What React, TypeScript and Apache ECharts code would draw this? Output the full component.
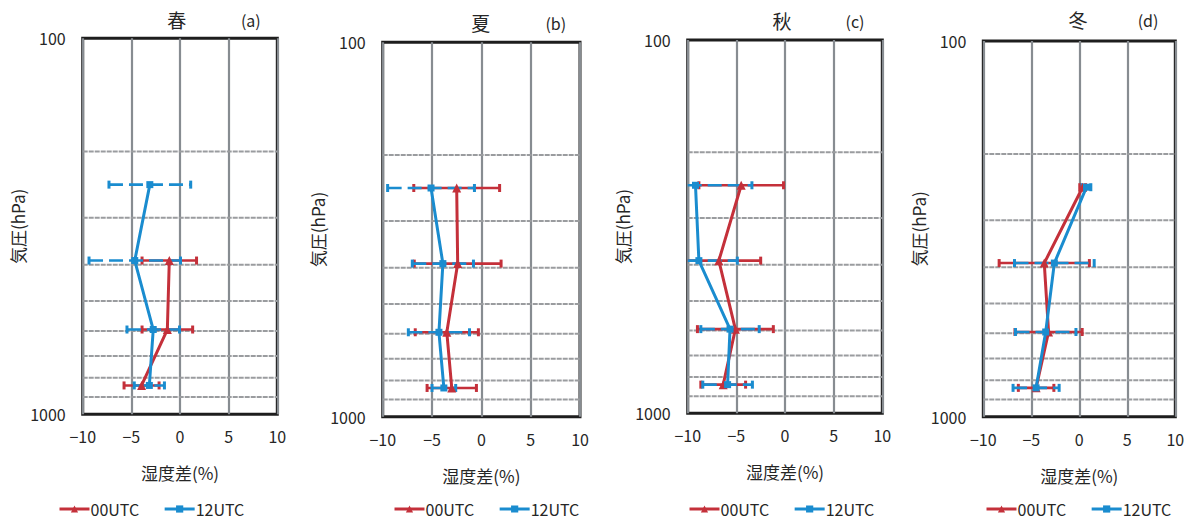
import React, { useEffect, useRef } from "react";
import * as echarts from "echarts";

// Pressure levels (hPa) at which the humidity differences are plotted
const PRESSURE_LEVELS = [245, 390, 595, 838];
// Reference lines drawn across each panel
const GRID_LEVELS = [200, 300, 400, 500, 600, 700, 800, 900];

const SEASONS = ["春", "夏", "秋", "冬"];
const PANEL_TAGS = ["(a)", "(b)", "(c)", "(d)"];
const SERIES_00 = "00UTC";
const SERIES_12 = "12UTC";

// Mean humidity difference (%) and its spread, per season and launch time
const SPRING_00_MEAN = [null, -1.1, -1.3, -3.95];
const SPRING_00_ERR = [null, 2.8, 2.6, 1.8];
const SPRING_12_MEAN = [-3.1, -4.65, -2.75, -3.15];
const SPRING_12_ERR = [4.2, 4.7, 2.7, 1.55];

const SUMMER_00_MEAN = [-2.5, -2.4, -3.5, -3.0];
const SUMMER_00_ERR = [4.35, 4.4, 3.2, 2.5];
const SUMMER_12_MEAN = [-5.1, -3.9, -4.3, -3.8];
const SUMMER_12_ERR = [4.4, 3.1, 3.1, 1.2];

const AUTUMN_00_MEAN = [-4.5, -6.8, -5.1, -6.35];
const AUTUMN_00_ERR = [4.35, 4.3, 3.9, 2.3];
const AUTUMN_12_MEAN = [-9.2, -8.85, -5.65, -5.9];
const AUTUMN_12_ERR = [5.8, 3.95, 3.0, 2.55];

const WINTER_00_MEAN = [0.35, -3.65, -3.2, -4.5];
const WINTER_00_ERR = [0.3, 4.7, 3.5, 1.85];
const WINTER_12_MEAN = [0.75, -2.6, -3.5, -4.5];
const WINTER_12_ERR = [0.45, 4.15, 3.15, 2.4];

const MEANS_00 = [SPRING_00_MEAN, SUMMER_00_MEAN, AUTUMN_00_MEAN, WINTER_00_MEAN];
const ERRS_00 = [SPRING_00_ERR, SUMMER_00_ERR, AUTUMN_00_ERR, WINTER_00_ERR];
const MEANS_12 = [SPRING_12_MEAN, SUMMER_12_MEAN, AUTUMN_12_MEAN, WINTER_12_MEAN];
const ERRS_12 = [SPRING_12_ERR, SUMMER_12_ERR, AUTUMN_12_ERR, WINTER_12_ERR];

const X_MIN = -10;
const X_MAX = 10;
const X_STEP = 5;
const P_TOP = 100;
const P_BOTTOM = 1000;

// Plot-area placement of each panel
const PANELS = [
  { left: 82.7, top: 38.3, width: 194.6, height: 376, title: 176.7, tag: 250.8, titleY: 19, legend: 58 },
  { left: 382.7, top: 42.3, width: 197.3, height: 374.4, title: 480.8, tag: 555.8, titleY: 22, legend: 393 },
  { left: 687.7, top: 40, width: 194.6, height: 373.3, title: 782, tag: 855, titleY: 20, legend: 688 },
  { left: 983.3, top: 41, width: 192, height: 375.7, title: 1078, tag: 1148, titleY: 19, legend: 985 },
];

const RED = "#c4303a";
const BLUE = "#1a8ccf";
const GRID_GREY = "#878c91";
const TEXT = "#262626";
const FONT = "'Noto Sans CJK JP', 'Noto Sans', sans-serif";

const fmtTick = (v: number) => (v < 0 ? "\u2212" + Math.abs(v) : String(v));
const fmtPressure = (v: number) => String(Math.round(v));

function pointsOf(means: (number | null)[]) {
  const out: number[][] = [];
  means.forEach((m, i) => {
    if (m !== null) out.push([m, PRESSURE_LEVELS[i]]);
  });
  return out;
}

function errorBars(
  idx: number,
  key: string,
  means: (number | null)[],
  errs: (number | null)[],
  color: string,
  dashed: boolean,
  z: number
) {
  const data: number[][] = [];
  means.forEach((m, i) => {
    if (m !== null && errs[i] !== null) data.push([m, PRESSURE_LEVELS[i], errs[i] as number]);
  });
  return {
    type: "custom",
    name: key,
    xAxisIndex: idx,
    yAxisIndex: idx,
    z,
    silent: true,
    data,
    encode: { x: 0, y: 1 },
    renderItem: (_params: any, api: any) => {
      const m = api.value(0);
      const p = api.value(1);
      const e = api.value(2);
      const lo = Math.max(X_MIN, m - e);
      const hi = Math.min(X_MAX, m + e);
      const a = api.coord([lo, p]);
      const b = api.coord([hi, p]);
      const children: any[] = [
        {
          type: "line",
          shape: { x1: a[0], y1: a[1], x2: b[0], y2: b[1] },
          style: { stroke: color, lineWidth: 2.6, lineDash: dashed ? [14, 6] : null },
        },
      ];
      const cap = (pt: number[]) => ({
        type: "line",
        shape: { x1: pt[0], y1: pt[1] - 4, x2: pt[0], y2: pt[1] + 4 },
        style: { stroke: color, lineWidth: 3 },
      });
      if (m - e >= X_MIN) children.push(cap(a));
      if (m + e <= X_MAX) children.push(cap(b));
      return { type: "group", children };
    },
  };
}

function levelLines(idx: number) {
  return {
    type: "custom",
    name: "levels-" + idx,
    xAxisIndex: idx,
    yAxisIndex: idx,
    z: 1,
    silent: true,
    data: GRID_LEVELS.map((p) => [0, p]),
    encode: { x: 0, y: 1 },
    renderItem: (_params: any, api: any) => {
      const p = api.value(1);
      const a = api.coord([X_MIN, p]);
      const b = api.coord([X_MAX, p]);
      return {
        type: "line",
        shape: { x1: a[0], y1: a[1], x2: b[0], y2: b[1] },
        style: { stroke: "#9a9c9f", lineWidth: 2, lineDash: [5, 1] },
      };
    },
  };
}

function buildOption() {
  const grid: any[] = [];
  const xAxis: any[] = [];
  const yAxis: any[] = [];
  const series: any[] = [];
  const legend: any[] = [];
  const graphic: any[] = [];

  PANELS.forEach((pn, i) => {
    grid.push({
      left: pn.left,
      top: pn.top,
      width: pn.width,
      height: pn.height,
      show: true,
      borderColor: "#1e1e1e",
      borderWidth: 3,
      backgroundColor: "#ffffff",
    });
    xAxis.push({
      type: "value",
      gridIndex: i,
      min: X_MIN,
      max: X_MAX,
      interval: X_STEP,
      name: "湿度差(%)",
      nameLocation: "middle",
      nameGap: 50,
      nameTextStyle: { fontFamily: FONT, fontSize: 17, color: TEXT },
      axisLine: { show: false },
      axisTick: { show: false },
      axisLabel: { formatter: fmtTick, fontFamily: FONT, fontSize: 16, color: TEXT, margin: 14 },
      splitLine: { show: true, lineStyle: { color: GRID_GREY, width: 2.2 } },
    });
    yAxis.push({
      type: "log",
      logBase: 10,
      gridIndex: i,
      min: P_TOP,
      max: P_BOTTOM,
      inverse: true,
      name: "気圧(hPa)",
      nameLocation: "middle",
      nameRotate: 90,
      nameGap: 47,
      nameTextStyle: { fontFamily: FONT, fontSize: 17, color: TEXT },
      axisLine: { show: false },
      axisTick: { show: false },
      axisLabel: { formatter: fmtPressure, fontFamily: FONT, fontSize: 16, color: TEXT, margin: 17 },
      splitLine: { show: false },
    });

    series.push(levelLines(i));
    series.push(errorBars(i, "eb00-" + i, MEANS_00[i], ERRS_00[i], RED, false, 2));
    series.push(errorBars(i, "eb12-" + i, MEANS_12[i], ERRS_12[i], BLUE, true, 3));
    series.push({
      type: "line",
      name: SERIES_00,
      xAxisIndex: i,
      yAxisIndex: i,
      z: 4,
      data: pointsOf(MEANS_00[i]),
      symbol: "triangle",
      symbolSize: 9,
      lineStyle: { color: RED, width: 3 },
      itemStyle: { color: RED },
    });
    series.push({
      type: "line",
      name: SERIES_12,
      xAxisIndex: i,
      yAxisIndex: i,
      z: 5,
      data: pointsOf(MEANS_12[i]),
      symbol: "rect",
      symbolSize: 7,
      lineStyle: { color: BLUE, width: 3 },
      itemStyle: { color: BLUE },
    });

    legend.push({
      left: pn.legend,
      top: 501,
      itemWidth: 30,
      itemHeight: 9,
      itemGap: 24,
      padding: 0,
      lineStyle: { width: 3 },
      data: [SERIES_00, SERIES_12],
      textStyle: { fontFamily: FONT, fontSize: 16, lineHeight: 16, color: TEXT, padding: [0, 0, 0, -4] },
    });

    graphic.push({
      type: "text",
      x: pn.title,
      y: pn.titleY,
      style: {
        text: SEASONS[i],
        fontFamily: FONT,
        fontSize: 19,
        fill: TEXT,
        align: "center",
        verticalAlign: "middle",
      },
    });
    graphic.push({
      type: "text",
      x: pn.tag,
      y: pn.titleY + 1,
      style: {
        text: PANEL_TAGS[i],
        fontFamily: FONT,
        fontSize: 16,
        fill: TEXT,
        align: "center",
        verticalAlign: "middle",
      },
    });
  });

  return {
    animation: false,
    backgroundColor: "#ffffff",
    textStyle: { fontFamily: FONT },
    grid,
    xAxis,
    yAxis,
    series,
    legend,
    graphic,
  };
}

export default function App() {
  const ref = useRef<HTMLDivElement | null>(null);

  useEffect(() => {
    if (!ref.current) return;
    const chart = echarts.init(ref.current, undefined, { renderer: "svg" });
    chart.setOption(buildOption() as any);
    return () => chart.dispose();
  }, []);

  return (
    <div
      ref={ref}
      style={{ position: "fixed", left: 0, top: 0, width: 1193, height: 520, background: "#fff" }}
    />
  );
}
